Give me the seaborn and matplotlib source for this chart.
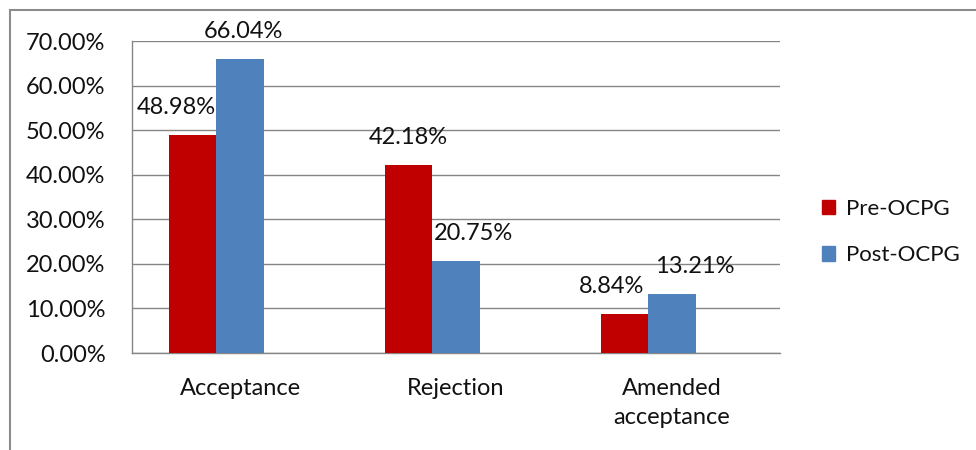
import matplotlib
matplotlib.use("Agg")
import matplotlib.pyplot as plt
from matplotlib.patches import Rectangle
from matplotlib.ticker import FuncFormatter, FixedLocator
import pandas as pd
import seaborn as sns

# Outcome categories and share of each outcome before / after OCPG
categories = ["Acceptance", "Rejection", "Amended\nacceptance"]
series = ["Pre-OCPG", "Post-OCPG"]
pre_ocpg = [48.98, 42.18, 8.84]
post_ocpg = [66.04, 20.75, 13.21]
y_ticks = [0, 10, 20, 30, 40, 50, 60, 70]

colors = {"Pre-OCPG": "#C00000", "Post-OCPG": "#4F81BD"}
grid_color = "#868686"
text_color = "#111111"

df = pd.DataFrame({
    "category": categories * 2,
    "series": [series[0]] * 3 + [series[1]] * 3,
    "value": pre_ocpg + post_ocpg,
})

sns.set_theme(style="white")
plt.rcParams["font.family"] = ["Lato", "DejaVu Sans"]

fig = plt.figure(figsize=(9.76, 4.5), dpi=100)
ax = fig.add_axes([132 / 976, 1 - 353 / 450, (780 - 132) / 976, (353 - 41) / 450])

sns.barplot(data=df, x="category", y="value", hue="series", palette=colors,
            width=0.444, gap=0, saturation=1, ax=ax, legend=False,
            errorbar=None, edgecolor="none", zorder=3)

# category band edges sit slightly to the right of the bar groups
shift = 0.109
ax.set_xlim(-0.5 + shift, 2.5 + shift)
ax.set_ylim(0, 70)

ax.set_yticks(y_ticks)
ax.yaxis.set_major_formatter(FuncFormatter(lambda v, p: f"{v:.2f}%"))
ax.grid(axis="y", color=grid_color, linewidth=1, zorder=0)

ax.xaxis.set_major_locator(FixedLocator([i - 0.5 + shift for i in range(4)]))
ax.xaxis.set_major_formatter(FuncFormatter(lambda v, p: ""))
ax.xaxis.set_minor_locator(FixedLocator([i + shift for i in range(3)]))
ax.set_xticklabels(categories, minor=True, linespacing=1.45)
ax.tick_params(axis="x", which="major", length=7, color=grid_color, width=1, direction="out")
ax.tick_params(axis="x", which="minor", length=0, pad=18, labelsize=17, labelcolor=text_color)
ax.tick_params(axis="y", length=7, color=grid_color, width=1, direction="out",
               pad=12, labelsize=17, labelcolor=text_color)
ax.set_xlabel("")
ax.set_ylabel("")

for side in ["top", "right"]:
    ax.spines[side].set_visible(False)
for side in ["left", "bottom"]:
    ax.spines[side].set_color(grid_color)
    ax.spines[side].set_linewidth(1)

# value labels above each bar
label_dx = {"Pre-OCPG": [-12, 0, -9], "Post-OCPG": [2, 12, 16]}
for container, name in zip(ax.containers, series):
    vals = pre_ocpg if name == "Pre-OCPG" else post_ocpg
    for bar, v, dx in zip(container, vals, label_dx[name]):
        ax.annotate(f"{v:.2f}%", (bar.get_x() + bar.get_width() / 2, v),
                    xytext=(dx, 12), textcoords="offset points",
                    ha="center", va="bottom", fontsize=17, color=text_color,
                    annotation_clip=False, zorder=5)

handles = [Rectangle((0, 0), 1, 1, color=colors[s]) for s in series]
fig.legend(handles, series, loc="center left", bbox_to_anchor=(813 / 976, 1 - 232 / 450),
           frameon=False, fontsize=16, handlelength=0.6, handleheight=0.6,
           handletextpad=0.5, labelspacing=1.2, borderaxespad=0,
           labelcolor=text_color)

# chart border
fig.patches.append(Rectangle((10 / 976, -0.1), 2, 1 - 10 / 450 + 0.1,
                             transform=fig.transFigure, fill=False,
                             edgecolor="#8c8c8c", linewidth=1.5))

fig.savefig("out.png", dpi=100)
